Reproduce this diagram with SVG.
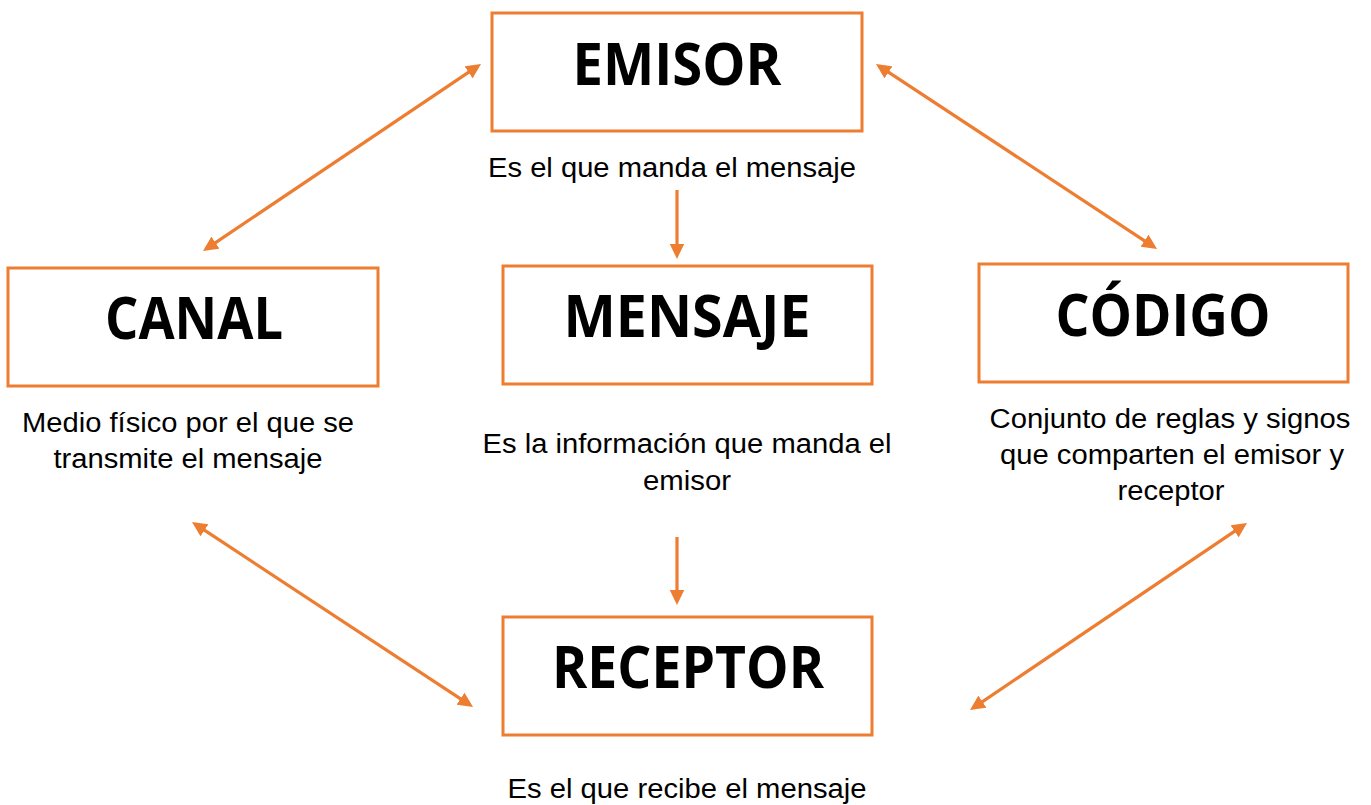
<svg xmlns="http://www.w3.org/2000/svg" width="1371" height="805" viewBox="0 0 1371 805">
<defs>
<style>
.box{fill:#fff;stroke:#ED7D31;stroke-width:3}
.title{font-family:"Open Sans","Liberation Sans",sans-serif;font-weight:bold;font-size:59px;fill:#000;text-anchor:middle}
.desc{font-family:"Liberation Sans",Arial,sans-serif;font-size:27px;fill:#000;text-anchor:middle}
.conn{stroke:#ED7D31;stroke-width:3.2;fill:none}
</style>
<marker id="ah" viewBox="0 0 15 14.5" refX="11" refY="7.25" markerWidth="15" markerHeight="14.5" orient="auto-start-reverse" markerUnits="userSpaceOnUse">
<path d="M0,0 L15,7.25 L0,14.5 z" fill="#ED7D31"/>
</marker>
</defs>
<rect width="1371" height="805" fill="#fff"/>
<g id="connectors">
<line class="conn" x1="206.3" y1="248.8" x2="477.7" y2="66.2" marker-start="url(#ah)" marker-end="url(#ah)"/>
<line class="conn" x1="879.3" y1="66.2" x2="1153.7" y2="246.8" marker-start="url(#ah)" marker-end="url(#ah)"/>
<line class="conn" x1="677" y1="190" x2="677" y2="255" marker-end="url(#ah)"/>
<line class="conn" x1="677" y1="537" x2="677" y2="601" marker-end="url(#ah)"/>
<line class="conn" x1="195.3" y1="524.2" x2="469.7" y2="704.8" marker-start="url(#ah)" marker-end="url(#ah)"/>
<line class="conn" x1="1243.7" y1="525.2" x2="973.3" y2="707.8" marker-start="url(#ah)" marker-end="url(#ah)"/>
</g>
<g id="emisor">
<rect class="box" x="492" y="13" width="370" height="118"/>
<text class="title" x="677" y="85" textLength="209" lengthAdjust="spacingAndGlyphs">EMISOR</text>
<text class="desc" x="672" y="177" textLength="368" lengthAdjust="spacingAndGlyphs">Es el que manda el mensaje</text>
</g>
<g id="canal">
<rect class="box" x="8" y="268" width="370" height="118"/>
<text class="title" x="194" y="339" textLength="178" lengthAdjust="spacingAndGlyphs">CANAL</text>
<text class="desc" x="188" y="432" textLength="332" lengthAdjust="spacingAndGlyphs">Medio físico por el que se</text>
<text class="desc" x="188" y="468" textLength="269" lengthAdjust="spacingAndGlyphs">transmite el mensaje</text>
</g>
<g id="mensaje">
<rect class="box" x="503" y="266" width="369" height="118"/>
<text class="title" x="687" y="337" textLength="247" lengthAdjust="spacingAndGlyphs">MENSAJE</text>
<text class="desc" x="687" y="453" textLength="409" lengthAdjust="spacingAndGlyphs">Es la información que manda el</text>
<text class="desc" x="687" y="490" textLength="88" lengthAdjust="spacingAndGlyphs">emisor</text>
</g>
<g id="codigo">
<rect class="box" x="979" y="264" width="369" height="118"/>
<text class="title" x="1163" y="336" textLength="215" lengthAdjust="spacingAndGlyphs">CÓDIGO</text>
<text class="desc" x="1170" y="428" textLength="361" lengthAdjust="spacingAndGlyphs">Conjunto de reglas y signos</text>
<text class="desc" x="1172" y="464" textLength="344" lengthAdjust="spacingAndGlyphs">que comparten el emisor y</text>
<text class="desc" x="1171" y="500" textLength="107" lengthAdjust="spacingAndGlyphs">receptor</text>
</g>
<g id="receptor">
<rect class="box" x="503" y="617" width="369" height="118"/>
<text class="title" x="688" y="688" textLength="272" lengthAdjust="spacingAndGlyphs">RECEPTOR</text>
<text class="desc" x="687" y="798" textLength="359" lengthAdjust="spacingAndGlyphs">Es el que recibe el mensaje</text>
</g>
</svg>
